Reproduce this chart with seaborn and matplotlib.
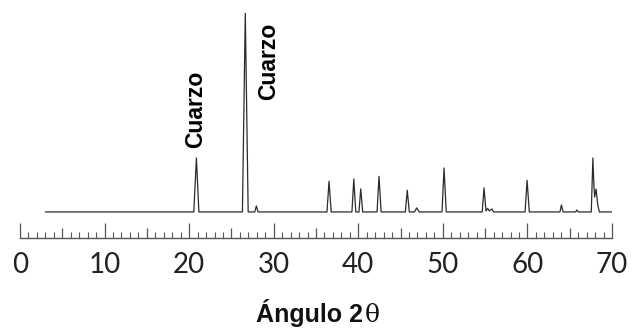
import matplotlib
matplotlib.use('Agg')
import matplotlib.pyplot as plt
import seaborn as sns
from matplotlib.ticker import MultipleLocator, FuncFormatter

# XRD trace: vertices of the line (2 theta, relative intensity)
two_theta = [3.0, 20.55, 20.86, 21.15, 26.30, 26.64, 26.98, 27.75, 27.95, 28.15,
             36.30, 36.54, 36.80, 39.25, 39.47, 39.70, 40.08, 40.29, 40.52,
             42.22, 42.45, 42.70, 45.57, 45.79, 46.03, 46.65, 46.90, 47.20,
             49.90, 50.14, 50.40, 54.65, 54.87, 55.10, 55.30, 55.50, 55.80, 56.00,
             59.72, 59.96, 60.22, 63.85, 64.02, 64.22, 65.70, 65.85, 66.00,
             67.55, 67.74, 67.86, 67.95, 68.12, 68.30, 68.50, 70.0]
intensity = [0.0, 0.0, 27.1, 0.0, 0.0, 100.0, 0.0, 0.0, 3.0, 0.0,
             0.0, 15.4, 0.0, 0.0, 16.6, 0.0, 0.0, 11.6, 0.0,
             0.0, 17.9, 0.0, 0.0, 10.9, 0.0, 0.0, 2.0, 0.0,
             0.0, 22.1, 0.0, 0.0, 12.1, 0.5, 1.8, 0.5, 1.5, 0.0,
             0.0, 15.9, 0.0, 0.0, 3.5, 0.0, 0.0, 1.0, 0.0,
             0.0, 27.1, 13.5, 7.5, 11.5, 4.0, 0.0, 0.0]

# peak annotations
label_text = ['Cuarzo', 'Cuarzo']
label_x = [20.75, 29.35]
label_y = [32.0, 56.5]

tick_values = list(range(0, 71, 10))

sns.set_style('white')

fig = plt.figure(figsize=(6.33, 3.29), dpi=100)
ax = fig.add_axes([20 / 633, 91 / 329, 592 / 633, 225 / 329])

sns.lineplot(x=two_theta, y=intensity, estimator=None, sort=False,
             color='#2b2b2b', linewidth=0.9, ax=ax)

ax.set_xlim(0, 70)
ax.set_ylim(-13.1, 100)

for s in ['top', 'left', 'right']:
    ax.spines[s].set_visible(False)
ax.spines['bottom'].set_color('#555555')
ax.spines['bottom'].set_linewidth(1.0)
ax.set_yticks([])
ax.set_ylabel('')

ax.xaxis.set_major_locator(MultipleLocator(5))
ax.xaxis.set_minor_locator(MultipleLocator(1))
ax.xaxis.set_major_formatter(FuncFormatter(
    lambda v, p: f'{int(round(v))}' if int(round(v)) in tick_values else ''))
ax.tick_params(axis='x', which='both', bottom=True)
ax.tick_params(axis='x', which='major', direction='in', length=10.5, width=0.9,
               color='#555555', pad=10, labelsize=20, labelcolor='#222222')
ax.tick_params(axis='x', which='minor', direction='in', length=4, width=0.8,
               color='#555555')
for lab in ax.get_xticklabels():
    lab.set_fontfamily('Lato')
fig.canvas.draw()
for t in ax.xaxis.get_major_ticks():
    if int(round(t.get_loc())) % 10 != 0:
        t.tick1line.set_markersize(7)

for txt, x, y in zip(label_text, label_x, label_y):
    ax.text(x, y, txt, rotation=90, ha='center', va='bottom',
            fontsize=16.5, fontweight='bold', family='Liberation Sans', color='black')

# axis title: bold words, plain serif theta
t1 = fig.text(0, 7 / 329, 'Ángulo 2', ha='left', va='baseline',
              fontsize=18, fontweight='bold', family='Liberation Sans', color='#111111')
t2 = fig.text(0, 7 / 329, 'θ', ha='left', va='baseline',
              fontsize=18, family='DejaVu Serif', color='#111111')
r = fig.canvas.get_renderer()
w1 = t1.get_window_extent(r).width
w2 = t2.get_window_extent(r).width
x0 = 318 - (w1 + w2 + 2) / 2
t1.set_x(x0 / 633)
t2.set_x((x0 + w1 + 2) / 633)

fig.savefig('out.png', dpi=100)
